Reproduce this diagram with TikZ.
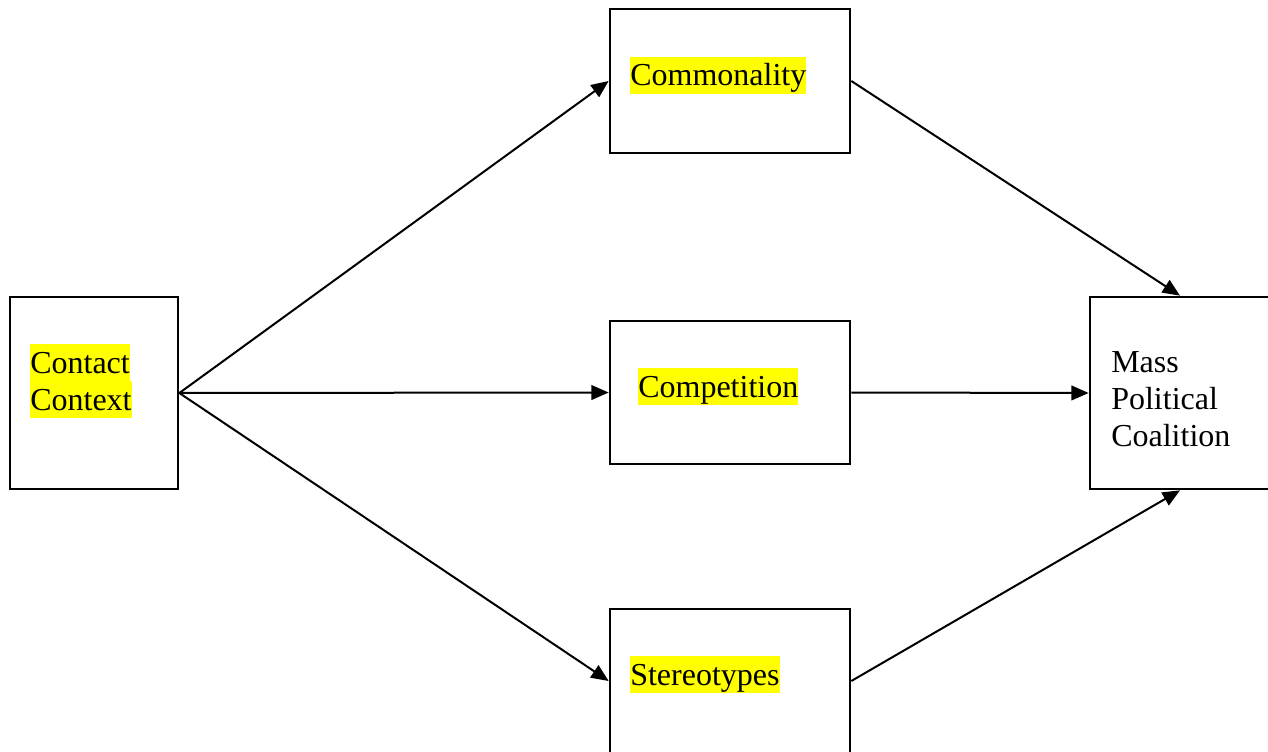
\documentclass[tikz,border=0pt]{standalone}
\usepackage{fontspec}
\setmainfont{Liberation Serif}
\usetikzlibrary{arrows.meta}
\definecolor{hly}{RGB}{255,255,0}
\newcommand\hlline[1]{{\setlength\fboxsep{0pt}\colorbox{hly}{\rule[-6pt]{0pt}{27.75pt}#1}}}
\newcommand\plline[1]{\rule[-6pt]{0pt}{27.75pt}#1}
\tikzset{
  box/.style={draw, line width=2pt, rectangle, inner sep=0pt},
  label/.style={anchor=north west, inner sep=0pt, align=left, font=\fontsize{24}{27.75}\selectfont},
  conn/.style={line width=1.5pt, -{Triangle[length=13pt,width=11pt]}}
}
\begin{document}
\begin{tikzpicture}[x=0.75pt,y=-0.75pt]
\useasboundingbox (0,0) rectangle (1268,752);
\clip (0,0) rectangle (1268,752);
\fill[white] (0,0) rectangle (1268,752);
% boxes
\node[box, minimum width=126pt, minimum height=144pt] (ctx) at (94,393) {};
\node[box, minimum width=180pt, minimum height=108pt] (com) at (730,81) {};
\node[box, minimum width=180pt, minimum height=107.25pt] (comp) at (730,392.5) {};
\node[box, minimum width=180pt, minimum height=108pt] (ster) at (730,681) {};
\node[box, minimum width=135pt, minimum height=144pt] (mass) at (1180,393) {};
% texts
\node[label] (tctx) at (30,344) {\hlline{Contact}\\\hlline{Context}};
\node[label] (tcom) at (630,56.5) {\hlline{Commonality}};
\node[label] (tcomp) at (638,368) {\hlline{Competition}};
\node[label] (tster) at (630,656) {\hlline{Stereotypes}};
\node[label] (tmass) at (1111,343) {\plline{Mass}\\\plline{Political}\\\plline{Coalition}};
% connectors
\draw[conn] (ctx.east) -- (com.west);
\draw[conn] (ctx.east) -- (comp.west);
\draw[conn] (ctx.east) -- (ster.west);
\draw[conn] (com.east) -- (mass.north);
\draw[conn] (comp.east) -- (mass.west);
\draw[conn] (ster.east) -- (mass.south);
\end{tikzpicture}
\end{document}
